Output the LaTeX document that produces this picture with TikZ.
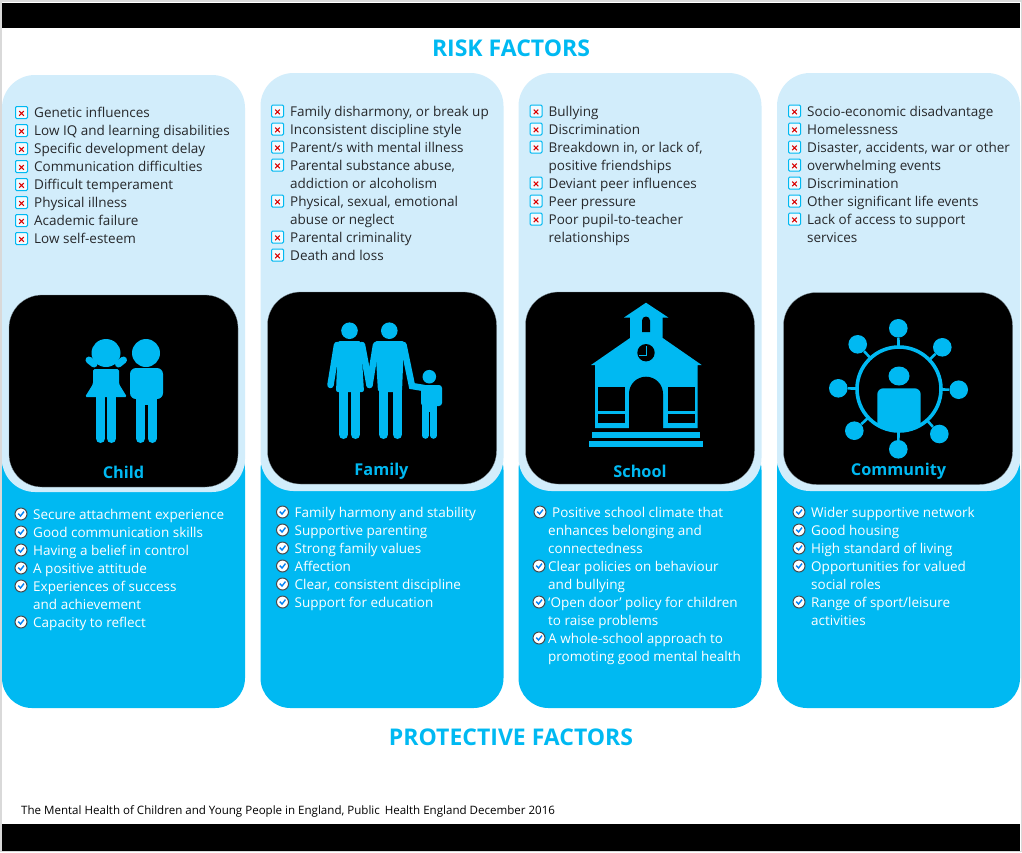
\documentclass[tikz,border=0pt]{standalone}
\usepackage{fontspec}
\setmainfont{Open Sans}
\usetikzlibrary{positioning}
\definecolor{skyblue}{HTML}{00B9F2}
\definecolor{paleblue}{HTML}{D2EDFB}
\definecolor{inkgrey}{HTML}{26282B}
\tikzset{
  basepanel/.style={fill=skyblue,minimum width=243pt,minimum height=#1,rounded corners=30pt,inner sep=0pt},
  toppanel/.style={fill=paleblue,minimum width=243pt,minimum height=#1,rounded corners=33pt,inner sep=0pt},
  blackbox/.style={fill=black,draw=paleblue!60!black,line width=.3pt,minimum width=229pt,minimum height=192pt,rounded corners=33pt,inner sep=0pt},
  heading/.style={text=skyblue,font=\fontsize{23}{27}\selectfont\bfseries},
  panelname/.style={text=skyblue,font=\fontsize{16.3}{19}\selectfont\bfseries},
  itemtext/.style={anchor=west,inner sep=0pt,text height=12pt,text depth=2pt,text=inkgrey,font=\fontsize{13.5}{18}\selectfont},
  goodtext/.style={itemtext,text=white},
  nextrow/.style={below=18pt of #1.west,anchor=west},
  riskbox/.style={draw=skyblue,fill=white!70!paleblue,line width=1pt,rounded corners=1.2pt,minimum size=12pt,inner sep=0pt,xshift=-6pt,
    path picture={\draw[red!85!black,line width=1.1pt]
      ([shift={(-2.3pt,-3.2pt)}]path picture bounding box.center) -- ([shift={(2.3pt,1.4pt)}]path picture bounding box.center)
      ([shift={(-2.3pt,1.4pt)}]path picture bounding box.center) -- ([shift={(2.3pt,-3.2pt)}]path picture bounding box.center);}},
  okbox/.style={circle,draw=inkgrey!85,fill=white,line width=1pt,minimum size=12pt,inner sep=0pt,
    path picture={\draw[skyblue!70!blue,line width=1.4pt]
      ([shift={(-2.8pt,.4pt)}]path picture bounding box.center) -- ([shift={(-.5pt,-2pt)}]path picture bounding box.center)
      -- ([shift={(3pt,2.4pt)}]path picture bounding box.center);}},
  riskitem/.style={itemtext,label={[riskbox]left:{}}},
  goodrow/.style={goodtext,label={[okbox,xshift=-#1]left:{}}},
  goodrow/.default=5.5pt,
  iconfill/.style={fill=skyblue},
  limb/.style={draw=skyblue,line width=#1,line cap=round},
  limb/.default=9pt,
  moon/.style={fill=skyblue,circle,minimum size=18.6pt,inner sep=0pt}
}
\begin{document}
\begin{tikzpicture}[x=1pt,y=-1pt]
\useasboundingbox (0,0) rectangle (1022,852);
\draw[fill=white,draw=black!15,line width=1.5pt] (.75,.75) rectangle (1021.25,851.25);
\fill[black] (2,2.5) rectangle (1020,28);
\fill[black] (2,824) rectangle (1020,851);

\node[heading] (risk) at (511,48) {RISK FACTORS};
\node[heading] (protective) at (511,737) {PROTECTIVE FACTORS};
\node[anchor=west,inner sep=0pt,text=black,font=\fontsize{11.55}{14}\selectfont] (source) at (21,811)
  {The Mental Health of Children and Young People in England, Public\, Health England December 2016};

% panels
\node[basepanel=268pt] (childbase) at (123.5,574) {};
\node[toppanel=417pt] (childtop) at (123.5,283.5) {};
\node[blackbox] (childbox) at (123.5,391) {};
\node[panelname] (childname) at (123.5,472) {Child};

\node[basepanel=268pt] (familybase) at (382,574) {};
\node[toppanel=418pt] (familytop) at (382,282) {};
\node[blackbox] (familybox) at (382,388) {};
\node[panelname] (familyname) at (381.5,471) {Family};

\node[basepanel=268pt] (schoolbase) at (640,574) {};
\node[toppanel=418pt] (schooltop) at (640,282) {};
\node[blackbox] (schoolbox) at (640,388) {};
\node[panelname] (schoolname) at (640,471) {School};

\node[basepanel=268pt] (communitybase) at (898.5,574) {};
\node[toppanel=418pt] (communitytop) at (898.5,282) {};
\node[blackbox] (communitybox) at (898,388.5) {};
\node[panelname] (communityname) at (898.5,471) {Community};

% risk lists
\node[riskitem] (c1) at (34,112.5) {Genetic influences};
\node[riskitem] (c2) [nextrow=c1] {Low IQ and learning disabilities};
\node[riskitem] (c3) [nextrow=c2] {Specific development delay};
\node[riskitem] (c4) [nextrow=c3] {Communication difficulties};
\node[riskitem] (c5) [nextrow=c4] {Difficult temperament};
\node[riskitem] (c6) [nextrow=c5] {Physical illness};
\node[riskitem] (c7) [nextrow=c6] {Academic failure};
\node[riskitem] (c8) [nextrow=c7] {Low self-esteem};

\node[riskitem] (f1) at (290,111) {Family disharmony, or break up};
\node[riskitem] (f2) [nextrow=f1] {Inconsistent discipline style};
\node[riskitem] (f3) [nextrow=f2] {Parent/s with mental illness};
\node[riskitem] (f4) [nextrow=f3] {Parental substance abuse,};
\node[itemtext] (f5) [nextrow=f4] {addiction or alcoholism};
\node[riskitem] (f6) [nextrow=f5] {Physical, sexual, emotional};
\node[itemtext] (f7) [nextrow=f6] {abuse or neglect};
\node[riskitem] (f8) [nextrow=f7] {Parental criminality};
\node[riskitem] (f9) [nextrow=f8] {Death and loss};

\node[riskitem] (s1) at (548.5,111) {Bullying};
\node[riskitem] (s2) [nextrow=s1] {Discrimination};
\node[riskitem] (s3) [nextrow=s2] {Breakdown in, or lack of,};
\node[itemtext] (s4) [nextrow=s3] {positive friendships};
\node[riskitem] (s5) [nextrow=s4] {Deviant peer influences};
\node[riskitem] (s6) [nextrow=s5] {Peer pressure};
\node[riskitem] (s7) [nextrow=s6] {Poor pupil-to-teacher};
\node[itemtext] (s8) [nextrow=s7] {relationships};

\node[riskitem] (m1) at (807,111) {Socio-economic disadvantage};
\node[riskitem] (m2) [nextrow=m1] {Homelessness};
\node[riskitem] (m3) [nextrow=m2] {Disaster, accidents, war or other};
\node[riskitem] (m4) [nextrow=m3] {overwhelming events};
\node[riskitem] (m5) [nextrow=m4] {Discrimination};
\node[riskitem] (m6) [nextrow=m5] {Other significant life events};
\node[riskitem] (m7) [nextrow=m6] {Lack of access to support};
\node[itemtext] (m8) [nextrow=m7] {services};

% protective lists
\node[goodrow] (gc1) at (33,514) {Secure attachment experience};
\node[goodrow] (gc2) [nextrow=gc1] {Good communication skills};
\node[goodrow] (gc3) [nextrow=gc2] {Having a belief in control};
\node[goodrow] (gc4) [nextrow=gc3] {A positive attitude};
\node[goodrow] (gc5) [nextrow=gc4] {Experiences of success};
\node[goodtext] (gc6) [nextrow=gc5] {and achievement};
\node[goodrow] (gc7) [nextrow=gc6] {Capacity to reflect};

\node[goodrow] (gf1) at (294.5,512) {Family harmony and stability};
\node[goodrow] (gf2) [nextrow=gf1] {Supportive parenting};
\node[goodrow] (gf3) [nextrow=gf2] {Strong family values};
\node[goodrow] (gf4) [nextrow=gf3] {Affection};
\node[goodrow] (gf5) [nextrow=gf4] {Clear, consistent discipline};
\node[goodrow] (gf6) [nextrow=gf5] {Support for education};

\node[goodrow] (gs1) at (552,512) {Positive school climate that};
\node[goodtext] (gs2) at (548,530) {enhances belonging and};
\node[goodtext] (gs3) [nextrow=gs2] {connectedness};
\node[goodrow=2.5pt] (gs4) [nextrow=gs3] {Clear policies on behaviour};
\node[goodtext] (gs5) [nextrow=gs4] {and bullying};
\node[goodrow=2.5pt] (gs6) [nextrow=gs5] {‘Open door’ policy for children};
\node[goodtext] (gs7) [nextrow=gs6] {to raise problems};
\node[goodrow=2.5pt] (gs8) [nextrow=gs7] {A whole-school approach to};
\node[goodtext] (gs9) [nextrow=gs8] {promoting good mental health};

\node[goodrow] (gm1) at (811,512) {Wider supportive network};
\node[goodrow] (gm2) [nextrow=gm1] {Good housing};
\node[goodrow] (gm3) [nextrow=gm2] {High standard of living};
\node[goodrow] (gm4) [nextrow=gm3] {Opportunities for valued};
\node[goodtext] (gm5) [nextrow=gm4] {social roles};
\node[goodrow] (gm6) [nextrow=gm5] {Range of sport/leisure};
\node[goodtext] (gm7) [nextrow=gm6] {activities};

% child icon
\fill[iconfill] (106,353) ellipse[x radius=14.5pt,y radius=14pt];
\draw[limb=7pt] (89,360) -- (94,364);
\draw[limb=7pt] (123.5,360) -- (118.5,364);
\fill[iconfill,rounded corners=1.5pt] (93,369) -- (119,369) -- (119,384) -- (127,397) -- (85,397) -- (93,384) -- cycle;
\draw[limb] (100.5,395) -- (100.5,438.5);
\draw[limb] (111.5,395) -- (111.5,438.5);
\fill[iconfill] (146,353) circle[radius=14pt];
\fill[iconfill,rounded corners=6pt] (130,368) rectangle (163,399);
\fill[iconfill] (136,392) rectangle (157,405);
\draw[limb] (140.5,400) -- (140.5,438.5);
\draw[limb] (152,400) -- (152,438.5);

% family icon
\fill[iconfill] (349.5,330.7) circle[radius=8.3pt];
\fill[iconfill,rounded corners=2pt] (338,341) -- (361,341) -- (364,392) -- (336,392) -- cycle;
\draw[limb=6.5pt] (337,345) -- (330.5,385);
\draw[limb=6.5pt] (362,345) -- (369.5,385);
\draw[limb] (343.5,390) -- (343.5,434.5);
\draw[limb] (355.5,390) -- (355.5,434.5);
\fill[iconfill] (389.3,330.7) circle[radius=8.3pt];
\fill[iconfill,rounded corners=2pt] (375,341) -- (404,341) -- (402,392) -- (378,392) -- cycle;
\draw[limb=6.5pt] (376,345) -- (369.5,385);
\draw[limb=6.5pt] (403.5,345) -- (412,386) -- (424,388);
\draw[limb] (383.5,390) -- (383.5,434.5);
\draw[limb] (397.5,390) -- (397.5,434.5);
\fill[iconfill] (429.3,376.7) circle[radius=6.8pt];
\fill[iconfill,rounded corners=3pt] (421,385) rectangle (442,406);
\fill[iconfill] (422,400) rectangle (437,412);
\draw[limb=6.5pt] (425.3,408) -- (425.3,435.5);
\draw[limb=6.5pt] (433.5,408) -- (433.5,435.5);

% school icon
\fill[iconfill] (646,302.7) -- (668.3,317.5) -- (662.7,317.5) -- (662.7,338) -- (701.7,365) -- (697.7,365) -- (697.7,428)
  -- (595,428) -- (595,365) -- (591,365) -- (630,338) -- (630,317.5) -- (624,317.5) -- cycle;
\fill[black] (642,332) -- (642,320.5) arc[start angle=180,end angle=0,radius=4pt] -- (650,332) -- cycle;
\fill[black] (646,352.7) circle[radius=8.7pt];
\draw[skyblue,line width=.9pt] (646,346) -- (646,355) -- (638.5,355);
\fill[black] (629,429) -- (629,393.7) arc[start angle=180,end angle=0,radius=17pt] -- (663,429) -- cycle;
\fill[black] (597.7,386.7) rectangle (625,410.7);
\fill[black] (597.7,414) rectangle (625,423.3);
\fill[black] (667.7,386.7) rectangle (695,410.7);
\fill[black] (667.7,414) rectangle (695,423.3);
\fill[iconfill] (592.3,431.7) rectangle (700,437.7);
\fill[iconfill] (589.3,441.3) rectangle (702.7,447.3);

% community icon
\coordinate (hub) at (899,389);
\node[moon] (n1) at (898.3,328.3) {};
\node[moon] (n2) at (942.3,347.3) {};
\node[moon] (n3) at (958.7,389.7) {};
\node[moon] (n4) at (939.3,434) {};
\node[moon] (n5) at (898.3,449.3) {};
\node[moon] (n6) at (854.3,430.7) {};
\node[moon] (n7) at (838.3,388.3) {};
\node[moon] (n8) at (857.7,344.3) {};
\draw[limb=2.6pt,line cap=butt] (hub) -- (n1) (hub) -- (n2) (hub) -- (n3) (hub) -- (n4)
  (hub) -- (n5) (hub) -- (n6) (hub) -- (n7) (hub) -- (n8);
\fill[black] (hub) circle[radius=42pt];
\begin{scope}
\clip (hub) circle[radius=42pt];
\fill[iconfill,rounded corners=6pt] (877.3,388.3) rectangle (920.7,445);
\end{scope}
\draw[skyblue,line width=3.6pt] (hub) circle[radius=42pt];
\fill[iconfill] (899,376) ellipse[x radius=10.5pt,y radius=9.5pt];
\end{tikzpicture}
\end{document}
